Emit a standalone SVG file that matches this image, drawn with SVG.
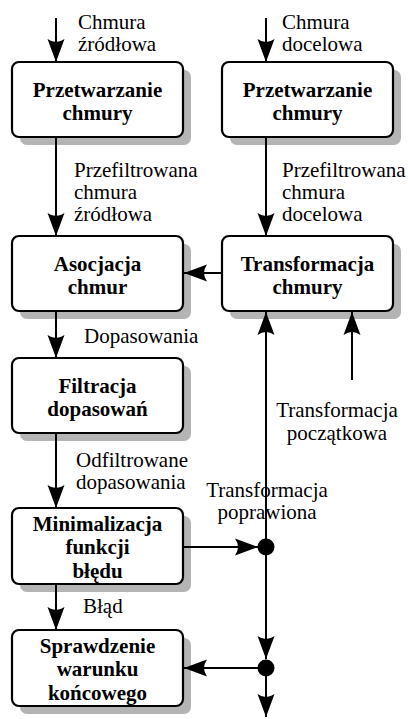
<svg xmlns="http://www.w3.org/2000/svg" width="408" height="719" viewBox="0 0 408 719">
<style>
.box{fill:#fff;stroke:#000;stroke-width:2.2}
.sh{fill:#b4b4b4;stroke:none}
.bt{font-family:"Liberation Serif","Times New Roman",serif;font-size:21px;font-weight:bold;text-anchor:middle;fill:#000}
.lt{font-family:"Liberation Serif","Times New Roman",serif;font-size:21px;fill:#000}
.ltc{font-family:"Liberation Serif","Times New Roman",serif;font-size:21px;fill:#000;text-anchor:middle}
.c{stroke:#000;stroke-width:2;fill:none;marker-end:url(#ah)}
.cn{stroke:#000;stroke-width:2;fill:none}
</style>
<defs>
<marker id="ah" viewBox="0 0 24 18" refX="23" refY="9" markerWidth="24" markerHeight="18" markerUnits="userSpaceOnUse" orient="auto">
<path d="M23,9 L0,0.5 Q6,9 0,17.5 Z" fill="#000"/>
</marker>
</defs>
<g id="n1">
<rect class="sh" x="20" y="70" width="171" height="75" rx="7"/>
<rect class="box" x="12" y="62" width="171" height="75" rx="7"/>
<text class="bt" x="97.5" y="96.5">Przetwarzanie</text>
<text class="bt" x="97.5" y="120">chmury</text>
</g>
<g id="n2">
<rect class="sh" x="230" y="70" width="171" height="75" rx="7"/>
<rect class="box" x="222" y="62" width="171" height="75" rx="7"/>
<text class="bt" x="307.5" y="96.5">Przetwarzanie</text>
<text class="bt" x="307.5" y="120">chmury</text>
</g>
<g id="n3">
<rect class="sh" x="20" y="244" width="171" height="75" rx="7"/>
<rect class="box" x="12" y="236" width="171" height="75" rx="7"/>
<text class="bt" x="97.5" y="270.5">Asocjacja</text>
<text class="bt" x="97.5" y="294">chmur</text>
</g>
<g id="n4">
<rect class="sh" x="230" y="244" width="171" height="75" rx="7"/>
<rect class="box" x="222" y="236" width="171" height="75" rx="7"/>
<text class="bt" x="307.5" y="270.5">Transformacja</text>
<text class="bt" x="307.5" y="294">chmury</text>
</g>
<g id="n5">
<rect class="sh" x="20" y="366" width="171" height="75" rx="7"/>
<rect class="box" x="12" y="358" width="171" height="75" rx="7"/>
<text class="bt" x="97.5" y="392.5">Filtracja</text>
<text class="bt" x="97.5" y="416">dopasowań</text>
</g>
<g id="n6">
<rect class="sh" x="20" y="516" width="171" height="76" rx="7"/>
<rect class="box" x="12" y="508" width="171" height="76" rx="7"/>
<text class="bt" x="97.5" y="530.5">Minimalizacja</text>
<text class="bt" x="97.5" y="554">funkcji</text>
<text class="bt" x="97.5" y="577.5">błędu</text>
</g>
<g id="n7">
<rect class="sh" x="20" y="638" width="171" height="76" rx="7"/>
<rect class="box" x="12" y="630" width="171" height="76" rx="7"/>
<text class="bt" x="97.5" y="652.5">Sprawdzenie</text>
<text class="bt" x="97.5" y="676">warunku</text>
<text class="bt" x="97.5" y="699.5">końcowego</text>
</g>
<g id="labels">
<text class="lt" x="78" y="29">Chmura</text>
<text class="lt" x="78" y="51">źródłowa</text>
<text class="lt" x="282" y="29">Chmura</text>
<text class="lt" x="282" y="51">docelowa</text>
<text class="lt" x="74" y="177">Przefiltrowana</text>
<text class="lt" x="74" y="199">chmura</text>
<text class="lt" x="74" y="221">źródłowa</text>
<text class="lt" x="282" y="177">Przefiltrowana</text>
<text class="lt" x="282" y="199">chmura</text>
<text class="lt" x="282" y="221">docelowa</text>
<text class="lt" x="84" y="343">Dopasowania</text>
<text class="lt" x="76" y="467">Odfiltrowane</text>
<text class="lt" x="76" y="489">dopasowania</text>
<text class="lt" x="83" y="613">Błąd</text>
<text class="ltc" x="337" y="417">Transformacja</text>
<text class="ltc" x="337" y="440">początkowa</text>
<text class="ltc" x="267" y="497">Transformacja</text>
<text class="ltc" x="267" y="519">poprawiona</text>
</g>
<g id="connectors">
<line class="c" x1="56" y1="18" x2="56" y2="62"/>
<line class="c" x1="266" y1="18" x2="266" y2="62"/>
<line class="c" x1="56" y1="137" x2="56" y2="236"/>
<line class="c" x1="266" y1="137" x2="266" y2="236"/>
<line class="c" x1="222" y1="273" x2="184" y2="273"/>
<line class="c" x1="56" y1="311" x2="56" y2="358"/>
<line class="c" x1="56" y1="433" x2="56" y2="508"/>
<line class="c" x1="56" y1="584" x2="56" y2="630"/>
<line class="c" x1="352" y1="380" x2="352" y2="312"/>
<line class="c" x1="266" y1="547" x2="266" y2="312"/>
<line class="c" x1="183" y1="547" x2="258" y2="547"/>
<line class="c" x1="266" y1="547" x2="266" y2="659"/>
<line class="c" x1="266" y1="668" x2="184" y2="668"/>
<line class="c" x1="266" y1="668" x2="266" y2="717"/>
<circle cx="266" cy="547" r="8.5" fill="#000"/>
<circle cx="266" cy="668" r="8.5" fill="#000"/>
</g>
</svg>
